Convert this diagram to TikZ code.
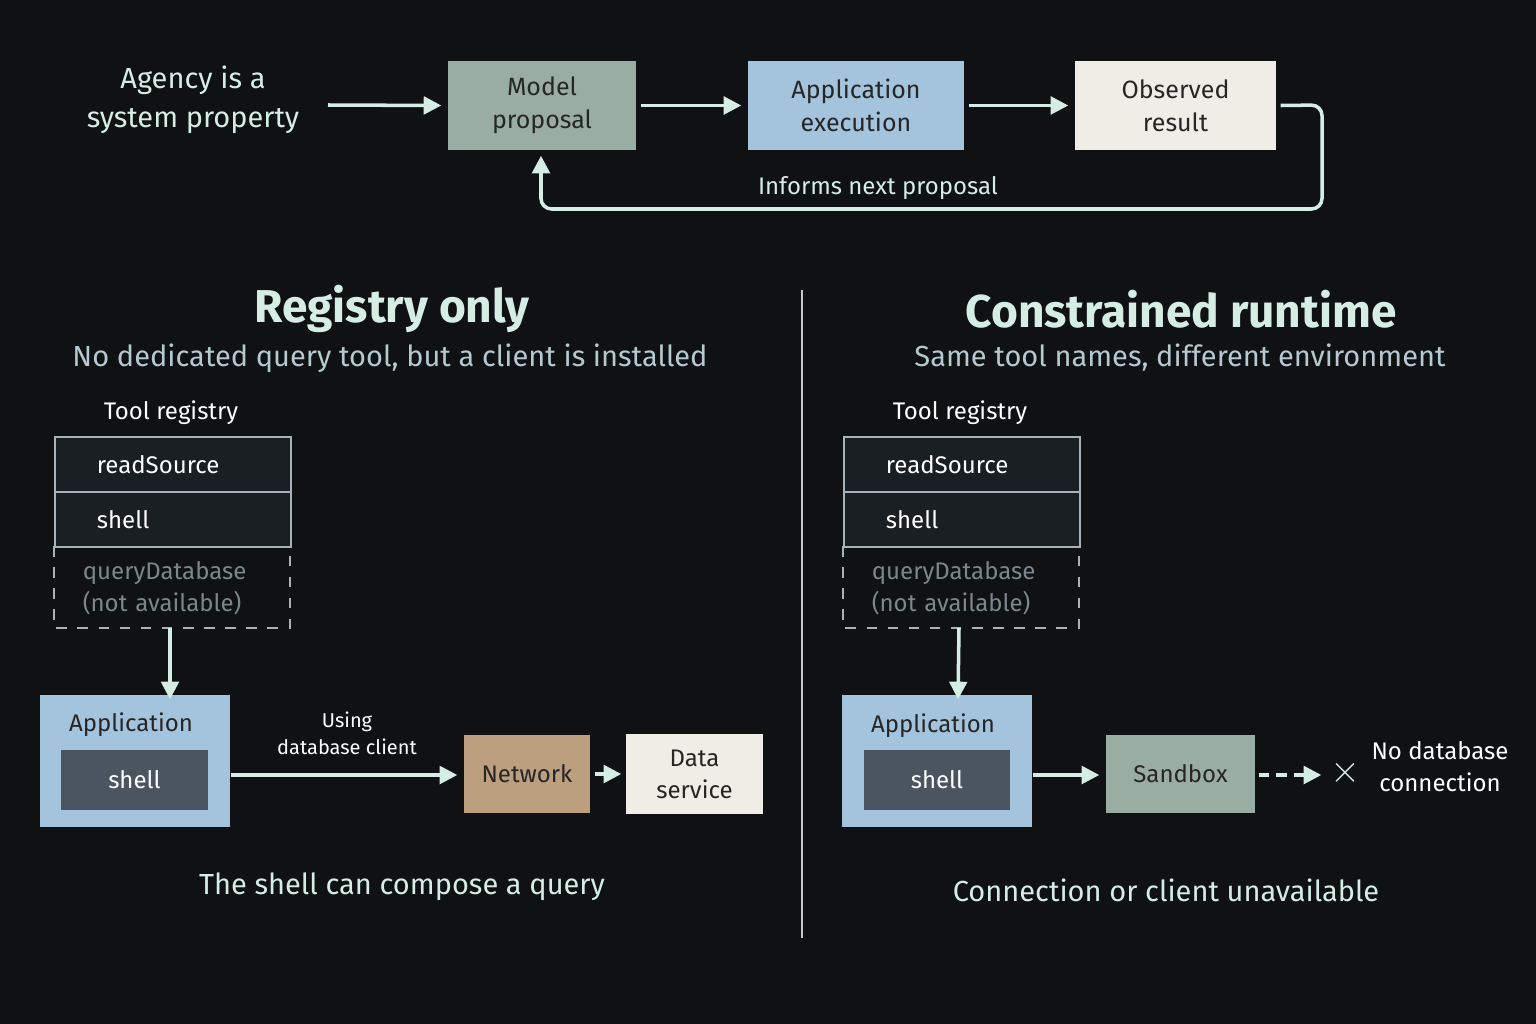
\documentclass[tikz,border=0pt]{standalone}
\usepackage{fontspec}
\setmainfont{Fira Sans}
\usetikzlibrary{arrows.meta}
\definecolor{bg}{HTML}{0F1113}
\definecolor{mint}{HTML}{D6EDE4}
\definecolor{sub}{HTML}{B5C9D0}
\definecolor{sage}{HTML}{9AADA3}
\definecolor{sky}{HTML}{A3C4DC}
\definecolor{cream}{HTML}{EFEDE6}
\definecolor{regfill}{HTML}{1A1F24}
\definecolor{regline}{HTML}{A8B2B8}
\definecolor{shellc}{HTML}{4A5560}
\definecolor{tan}{HTML}{BB9F7E}
\definecolor{dim}{HTML}{7C878D}
\newcommand{\fsz}[1]{\fontsize{\dimexpr #1pt*2845/10000\relax}{\dimexpr #1pt*3800/10000\relax}\selectfont}
\tikzset{
 x=0.01cm,y=-0.01cm,
 box/.style={minimum width=#1*0.01cm, inner sep=0pt, align=center, text=black!85},
 arr/.style={draw=mint, line width=1pt, -{Triangle[length=5pt,width=5pt]}},
 regrow/.style={draw=regline, fill=regfill, line width=0.5pt, inner sep=0pt, text=white!90, align=left, anchor=north west},
}
\begin{document}
\begin{tikzpicture}
\fill[bg] (0,0) rectangle (1536,1024);
\useasboundingbox (0,0) rectangle (1536,1024);
% top row
\node[text=mint, align=center, font=\fsz{29}] (agency) at (193,100) {Agency is a\\system property};
\node[fill=sage, box=188, minimum height=0.89cm, font=\fsz{25}] (model) at (542,105.5) {Model\\proposal};
\node[fill=sky, box=216, minimum height=0.89cm, font=\fsz{25}] (app) at (856,105.5) {Application\\execution};
\node[fill=cream, box=201, minimum height=0.89cm, font=\fsz{25}] (obs) at (1175.5,105.5) {Observed\\result};
\coordinate (aend) at (328,105);
\draw[arr] (aend) -- ([xshift=-0.06cm]model.west);
\draw[arr] ([xshift=0.04cm]model.east) -- ([xshift=-0.06cm]app.west);
\draw[arr] ([xshift=0.04cm]app.east) -- ([xshift=-0.06cm]obs.west);
\draw[arr, rounded corners=3pt] ([xshift=0.04cm]obs.east) -- (1322,105) -- (1322,209) -- (541,209) -- ([yshift=-0.05cm]model.south -| 541,0);
\node[text=mint, font=\fsz{24}] (inf) at (878,188) {Informs next proposal};
% divider
\coordinate (d1) at (802,290); \coordinate (d2) at (802,938);
\draw[regline!70, line width=0.6pt] (d1) -- (d2);
% headings
\node[text=mint, font=\bfseries\fsz{46}] (t1) at (392,309) {Registry only};
\node[text=sub, font=\fsz{29}] (s1) at (390,358) {No dedicated query tool, but a client is installed};
\node[text=mint, font=\bfseries\fsz{46}] (t2) at (1181,309) {Constrained runtime};
\node[text=sub, font=\fsz{29}] (s2) at (1180,358) {Same tool names, different environment};
% registries
\foreach \X/\P in {54/L,843/R}{
 \node[text=white!90, font=\fsz{24}] (tr\P) at (\X+117,413) {Tool registry};
 \node[regrow, minimum width=2.36cm, minimum height=0.55cm, font=\fsz{24}, text width=2.08cm] (rs\P) at (\X,436) {\hspace*{0.28cm}readSource};
 \node[regrow, minimum width=2.36cm, minimum height=0.55cm, font=\fsz{24}, text width=2.08cm] (sh\P) at (\X,491) {\hspace*{0.28cm}shell};
 \node[regrow, draw=none, fill=none, minimum height=0.82cm, text=dim, font=\fsz{24}, text width=2.08cm] (qd\P) at (\X+28,546) {queryDatabase\\(not available)};
 \draw[regline, dashed, line width=0.5pt] (\X,546) -- (\X,628) -- (\X+236,628) -- (\X+236,546);
 \coordinate (qb\P) at (\X+116,628);
}
% left application
\node[fill=sky, minimum width=1.9cm, minimum height=1.32cm, inner sep=0pt] (appL) at (135,761) {};
\node[text=black!85, font=\fsz{24}] (appLt) at (131,725) {Application};
\node[fill=shellc, minimum width=1.47cm, minimum height=0.6cm, inner sep=0pt, text=white!90, font=\fsz{24}] (shL) at (134.5,780) {shell};
\draw[arr] (qbL) -- ([yshift=-0.05cm]appL.north -| 170,0);
\node[fill=tan, box=126, minimum height=0.78cm, font=\fsz{24}] (net) at (527,774) {Network};
\node[fill=cream, box=137, minimum height=0.8cm, font=\fsz{24}] (data) at (694.5,774) {Data\\service};
\draw[arr] (appL.east |- 0,775) -- ([xshift=-0.06cm]net.west |- 0,775);
\node[text=white!90, align=center, font=\fsz{20}] (using) at (347,733) {Using\\database client};
\draw[arr] ([xshift=0.04cm]net.east) -- ([xshift=-0.04cm]data.west);
\node[text=mint, font=\fsz{29}] (c1) at (402,887) {The shell can compose a query};
% right application
\node[fill=sky, minimum width=1.9cm, minimum height=1.32cm, inner sep=0pt] (appR) at (937,761) {};
\node[text=black!85, font=\fsz{24}] (appRt) at (933,726) {Application};
\node[fill=shellc, minimum width=1.46cm, minimum height=0.6cm, inner sep=0pt, text=white!90, font=\fsz{24}] (shR) at (937,780) {shell};
\draw[arr] (qbR) -- ([yshift=-0.05cm]appR.north -| 958,0);
\node[fill=sage, box=149, minimum height=0.78cm, font=\fsz{24}] (sand) at (1180.5,774) {Sandbox};
\draw[arr] (appR.east |- 0,775) -- ([xshift=-0.06cm]sand.west |- 0,775);
\node[text=mint, font=\fsz{40}, inner sep=0pt] (x) at (1345,773) {$\times$};
\draw[draw=mint, line width=1pt, dash pattern=on 3pt off 2pt, -{Triangle[length=5pt,width=5pt]}] ([xshift=0.03cm]sand.east |- 0,775) -- ([xshift=-0.08cm]x.west |- 0,775);
\node[text=white!90, align=center, font=\fsz{24}] (nodb) at (1440,767) {No database\\connection};
\node[text=mint, font=\fsz{29}] (c2) at (1166,890) {Connection or client unavailable};
\end{tikzpicture}
\end{document}
